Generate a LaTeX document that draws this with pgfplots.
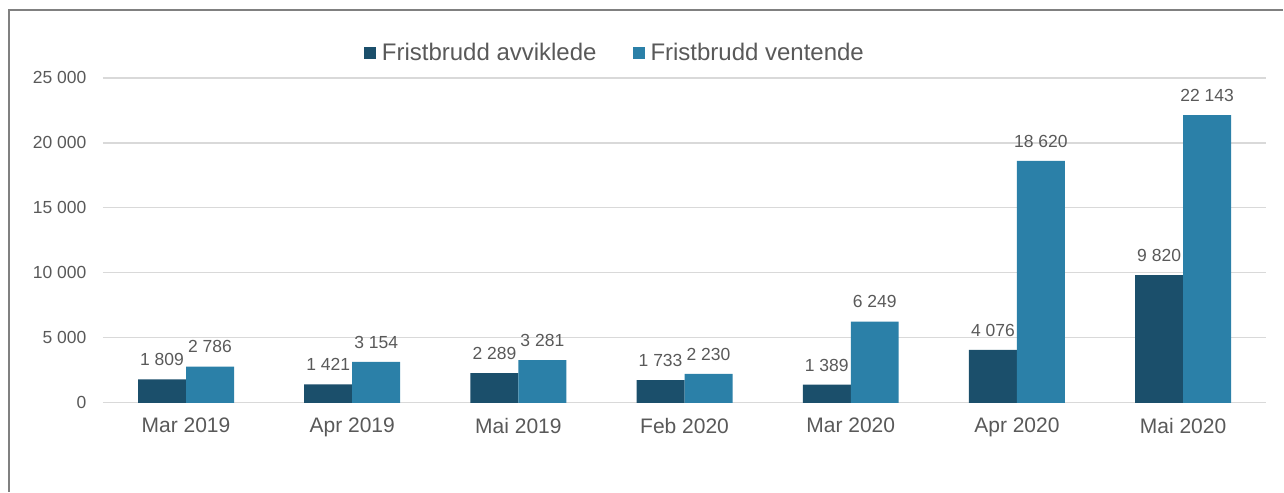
\documentclass[border=0pt]{standalone}
\usepackage{pgfplots}
\pgfplotsset{compat=1.18}
\usepackage{fontspec}
\setmainfont{Liberation Sans}
\definecolor{darkb}{HTML}{1B4F6B}
\definecolor{lightb}{HTML}{2B80A8}
\definecolor{txt}{HTML}{595959}
\definecolor{gridc}{HTML}{D9D9D9}
\definecolor{framec}{HTML}{808080}
\begin{document}
\begin{tikzpicture}[x=1pt,y=1pt]
\path (0,0) rectangle (1284,492);
\draw[framec, line width=1.5pt] (9,0) -- (9,482) -- (1284,482);
\begin{axis}[
  at={(103pt,89pt)}, anchor=south west, scale only axis,
  width=1164pt, height=325pt,
  ybar=0pt, bar width=48pt,
  xmin=-0.5, xmax=6.5, ymin=0, ymax=25000,
  axis line style={draw=none},
  major tick length=0pt,
  ymajorgrids, grid style={gridc, line width=1.2pt},
  xtick={0,...,6},
  xticklabels={Mar 2019,Apr 2019,Mai 2019,Feb 2020,Mar 2020,Apr 2020,Mai 2020},
  ytick={0,5000,...,25000},
  scaled y ticks=false,
  yticklabel style={font=\fontsize{17.5}{20}\selectfont, text=txt, xshift=-13pt,
    /pgf/number format/1000 sep={\ }, /pgf/number format/assume math mode=true},
  xticklabel style={font=\fontsize{21}{23}\selectfont, text=txt, yshift=-12pt},
  nodes near coords,
  every node near coord/.append style={font=\fontsize{17.5}{19}\selectfont, text=txt, yshift=10pt,
    /pgf/number format/1000 sep={\ }, /pgf/number format/assume math mode=true},
  legend style={at={(0.2242,1.0769)}, anchor=west, draw=none, fill=none,
    font=\fontsize{24}{26}\selectfont, text=txt, inner sep=0pt,
    /tikz/every odd column/.append style={column sep=4pt},
    /tikz/every even column/.append style={column sep=34pt}},
  legend columns=2,
  legend image code/.code={\fill[#1] (0pt,-6pt) rectangle (12pt,6pt);},
]
\addplot[fill=darkb, draw=none] coordinates {(0,1809) (1,1421) (2,2289) (3,1733) (4,1389) (5,4076) (6,9820)};
\addplot[fill=lightb, draw=none] coordinates {(0,2786) (1,3154) (2,3281) (3,2230) (4,6249) (5,18620) (6,22143)};
\legend{Fristbrudd avviklede, Fristbrudd ventende}
\end{axis}
\end{tikzpicture}
\end{document}
